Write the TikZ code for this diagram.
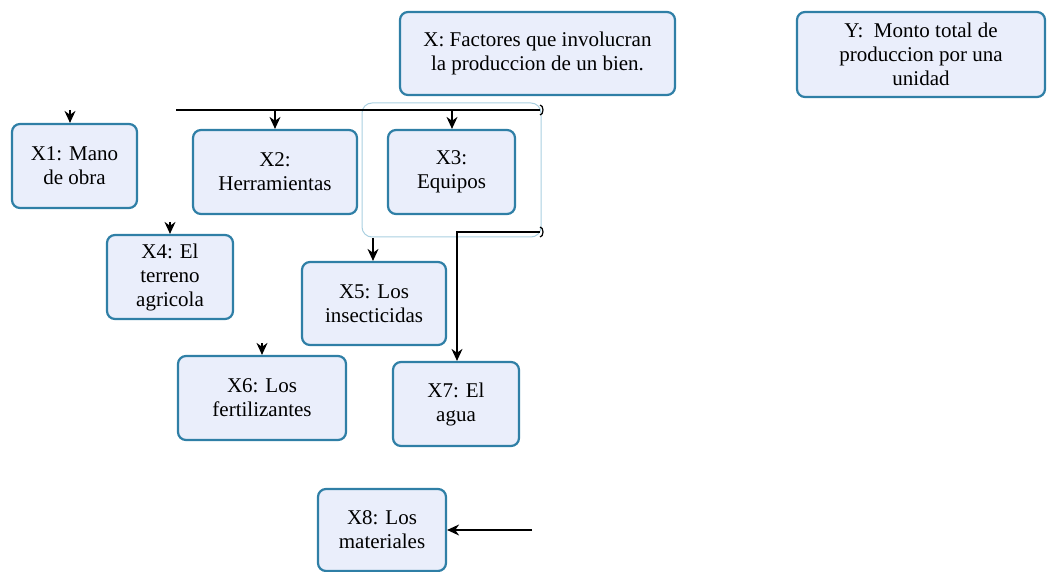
\documentclass[tikz,border=0pt]{standalone}
\usepackage{fontspec}
\setmainfont{Liberation Serif}
\usetikzlibrary{arrows.meta}
\definecolor{boxfill}{HTML}{EAEEFB}
\definecolor{boxdraw}{HTML}{2F7FA6}
\definecolor{lightframe}{HTML}{A9CFE0}
\tikzset{
  factor/.style={draw=boxdraw, fill=boxfill, line width=2.2pt, rounded corners=8pt, align=center, inner sep=0pt,
    font=\fontsize{21}{24}\selectfont},
  conn/.style={draw=black, line width=1.6pt, -{Stealth[length=12pt,width=11pt]}},
  plain/.style={draw=black, line width=1.6pt},
}
\begin{document}
\begin{tikzpicture}[x=1pt,y=-1pt]
\useasboundingbox (0,0) rectangle (1047,572);
% boxes
\node[factor, minimum width=275pt, minimum height=83pt] (X) at (537.5,53.5) {X: Factores que involucran\\la produccion de un bien.};
\node[factor, minimum width=248pt, minimum height=85pt] (Y) at (921,54.5) {Y:\ \ Monto total de\\produccion por una\\unidad};
\node[factor, minimum width=125pt, minimum height=84pt] (X1) at (74.5,166) {X1: Mano\\de obra};
\node[factor, minimum width=164pt, minimum height=84pt] (X2) at (275,172) {X2:\\Herramientas};
\node[factor, minimum width=127pt, minimum height=84pt] (X3) at (451.5,172) {X3:\\Equipos};
\node[factor, minimum width=126pt, minimum height=84pt] (X4) at (170,277) {X4: El\\terreno\\agricola};
\node[factor, minimum width=144pt, minimum height=83pt] (X5) at (374,303.5) {X5: Los\\insecticidas};
\node[factor, minimum width=168pt, minimum height=84pt] (X6) at (262,398) {X6: Los\\fertilizantes};
\node[factor, minimum width=126pt, minimum height=84pt] (X7) at (456,404) {X7: El\\agua};
\node[factor, minimum width=128pt, minimum height=82pt] (X8) at (382,530) {X8: Los\\materiales};
% light frame
\draw[lightframe, line width=1pt, rounded corners=10pt] (362,103) rectangle (541,237);
% coordinates
\coordinate (hL) at (176,110);
\coordinate (hR) at (540,110);
\coordinate (h2) at (275,110);
\coordinate (h3) at (452,110);
\coordinate (s1) at (70,110);
\coordinate (s4) at (170,222);
\coordinate (s6) at (262,343);
\coordinate (s5) at (373,238);
\coordinate (r7) at (540,232);
\coordinate (c7) at (457,232);
\coordinate (s8) at (532,530);
% connectors
\draw[plain] (hL) -- (hR);
\draw[black, line width=1.2pt] (hR) ++(0,-5) arc (90:-90:3pt and 5pt);
\draw[conn] (h2) -- (X2.north -| h2);
\draw[conn] (h3) -- (X3.north -| h3);
\draw[conn] (s1) -- (X1.north -| s1);
\draw[conn] (s4) -- (X4.north);
\draw[conn] (s6) -- (X6.north);
\draw[conn] (s5) -- (X5.north -| s5);
\draw[conn] (r7) -- (c7) -- (X7.north -| c7);
\draw[black, line width=1.2pt] (r7) ++(0,-5) arc (90:-90:3pt and 5pt);
\draw[conn] (s8) -- (X8.east);
\end{tikzpicture}
\end{document}
